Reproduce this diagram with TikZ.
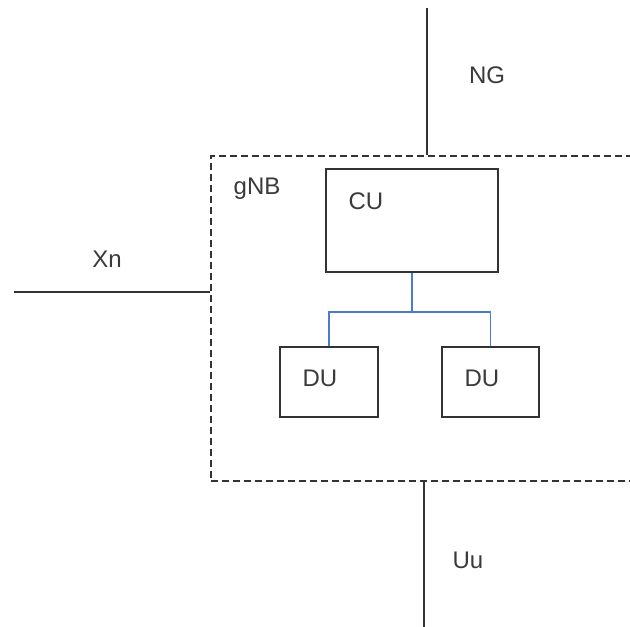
\documentclass[tikz,border=0pt]{standalone}
\usepackage{fontspec}
\setmainfont{Liberation Sans}
\definecolor{ink}{HTML}{333333}
\definecolor{txt}{HTML}{3A3A3A}
\definecolor{link}{HTML}{4A7BD0}
\begin{document}
\begin{tikzpicture}[x=1pt,y=-1pt,
  box/.style={draw=ink,line width=2pt,rectangle,inner sep=0pt},
  dashbox/.style={draw=ink,line width=1.7pt,dash pattern=on 7pt off 4pt,rectangle,inner sep=0pt,minimum width=439pt,minimum height=325pt},
  wire/.style={draw=ink,line width=2pt},
  bluewire/.style={draw=link,line width=1.6pt},
  lbl/.style={text=txt,font=\fontsize{24}{28}\selectfont,inner sep=0pt,anchor=base}]
\useasboundingbox (0,0) rectangle (630,627);
\clip (0,0) rectangle (630,627);
\fill[white] (0,0) rectangle (630,627);
% gNB boundary (right edge outside the picture)
\node[dashbox] (gnb) at (430.5,318.5) {};
% CU and DUs
\node[box,minimum width=172pt,minimum height=103pt] (cu) at (412,220) {};
\node[box,minimum width=98pt,minimum height=70pt] (du1) at (329,382) {};
\node[box,minimum width=97pt,minimum height=70pt] (du2) at (490.5,382) {};
% labels
\node[lbl] (gnbl) at (257,194) {gNB};
\node[lbl] (cul) at (366,209) {CU};
\node[lbl] (du1l) at (320,386) {DU};
\node[lbl] (du2l) at (482,386) {DU};
\node[lbl] (xnl) at (107,267) {Xn};
\node[lbl] (ngl) at (487,83) {NG};
\node[lbl] (uul) at (468,568) {Uu};
% external interfaces
\coordinate (ngtop) at (427,8);
\coordinate (xnend) at (14,292);
\coordinate (uubot) at (424,627);
\draw[wire] (ngtop) -- (ngtop |- gnb.north);
\draw[wire] (xnend) -- (xnend -| gnb.west);
\draw[wire] (uubot) -- (uubot |- gnb.south);
% CU-DU links
\draw[bluewire] (cu.south) -- ++(0,39.5) -| (du1.north);
\draw[bluewire] (cu.south) -- ++(0,39.5) -| (du2.north);
\end{tikzpicture}
\end{document}
